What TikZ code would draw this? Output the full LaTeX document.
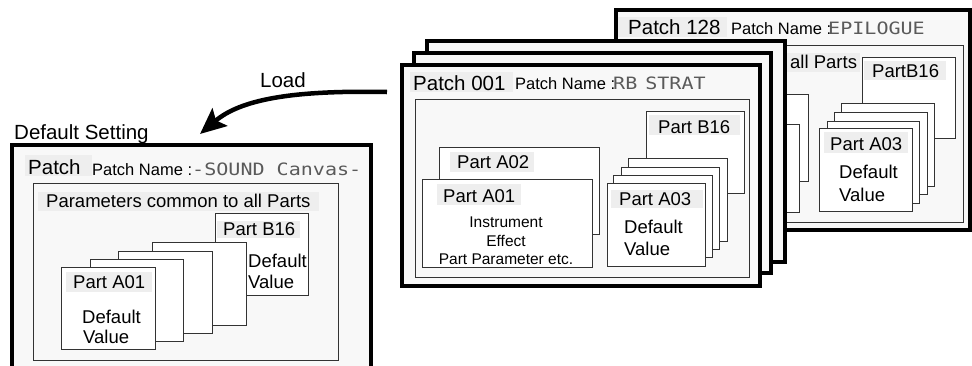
\documentclass[tikz,border=0pt]{standalone}
\usepackage{fontspec}
\setmainfont{Liberation Sans}
\newfontfamily\lcdfont[FakeStretch=1.18]{DejaVu Sans Mono}
\usetikzlibrary{arrows.meta}
\definecolor{framefill}{HTML}{F8F8F8}
\definecolor{labelfill}{HTML}{EEEEEE}
\definecolor{linegray}{HTML}{333333}
\definecolor{lcdgray}{HTML}{5A5A5A}
\newcommand\rbox[6]{\node[#6, anchor=north west, minimum width={(#4-#2)*1pt}, minimum height={(#5-#3)*1pt}] (#1) at (#2,#3) {};}
\tikzset{
  frame/.style={draw=black, line width=3.5pt, fill=framefill, inner sep=0pt, outer sep=0pt},
  leftframe/.style={frame, line width=3.2pt},
  parambox/.style={draw=linegray, line width=1pt, fill=framefill, inner sep=0pt, outer sep=0pt},
  partbox/.style={draw=linegray, line width=1pt, fill=white, inner sep=0pt, outer sep=0pt},
  labelbg/.style={fill=labelfill, inner sep=0pt, outer sep=0pt},
  txt/.style={inner sep=0pt, anchor=base west, font=\fontsize{18.5}{22}\selectfont},
  bigtxt/.style={txt, font=\fontsize{20.5}{24}\selectfont},
  pname/.style={txt, font=\fontsize{16.5}{19}\selectfont},
  lcd/.style={txt, text=lcdgray, font=\lcdfont\fontsize{17}{20}\selectfont},
  smalltxt/.style={inner sep=0pt, anchor=base, font=\fontsize{15.5}{18}\selectfont},
  loadarrow/.style={line width=4.5pt, -{Stealth[length=26pt, width=23pt, inset=5pt]}}
}
\begin{document}
\begin{tikzpicture}[x=1pt,y=-1pt]
\useasboundingbox (0,0) rectangle (972,365);
\clip (0,0) rectangle (972,365);

% ---------- Patch 128 (back) ----------
\rbox{f128}{616}{10}{970}{230}{frame}
\rbox{l128}{618}{17}{727}{37}{labelbg}
\node[bigtxt] (t128) at (628,34) {Patch 128};
\node[pname] (pn128) at (731,34) {Patch Name :};
\node[lcd] (lcd128) at (828,34) {EPILOGUE};
\rbox{pb128}{629}{45}{963}{222}{parambox}
\rbox{allbg}{785}{53}{860}{72}{labelbg}
\node[txt] (allp) at (790,68) {all Parts};
\rbox{h2}{640}{94}{808}{181}{partbox}
\rbox{h1}{630}{124}{799}{212}{partbox}
\rbox{bs128}{862}{57}{955}{138}{partbox}
\rbox{bsl128}{864}{61}{946}{80}{labelbg}
\node[txt] (bst128) at (872,77) {PartB16};
\rbox{s3r}{841}{103}{934}{186}{partbox}
\rbox{s2r}{834}{112}{927}{194}{partbox}
\rbox{s1r}{827}{121}{919}{203}{partbox}
\rbox{a3r}{819}{128}{912}{211}{partbox}
\rbox{a3lr}{824}{132}{908}{153}{labelbg}
\node[txt] (a3tr) at (830,150) {Part A03};
\node[txt] (a3dr) at (839,178) {Default};
\node[txt] (a3vr) at (839,201) {Value};

% ---------- stacked frames ----------
\rbox{fC}{427}{41}{785}{262}{frame}
\rbox{fB}{414}{53}{771}{273}{frame}
\rbox{fA}{402}{65}{760}{286}{frame}

% ---------- Patch 001 ----------
\rbox{l001}{410}{72}{513}{92}{labelbg}
\node[bigtxt] (t001) at (413,90) {Patch 001};
\node[pname] (pn001) at (515,89) {Patch Name :};
\node[lcd] (lcd001) at (613,89) {RB\hspace{8pt}STRAT};
\rbox{pb001}{415}{99}{749}{277}{parambox}
\rbox{b16}{646}{111}{744}{193}{partbox}
\rbox{b16l}{649}{115}{740}{135}{labelbg}
\node[txt] (b16t) at (658,133) {Part B16};
\rbox{s3}{628}{158}{727}{241}{partbox}
\rbox{s2}{621}{167}{719}{249}{partbox}
\rbox{s1}{613}{175}{712}{257}{partbox}
\rbox{a3}{607}{183}{705}{266}{partbox}
\rbox{a3l}{611}{190}{703}{208}{labelbg}
\node[txt] (a3t) at (619,205) {Part A03};
\node[txt] (a3d) at (624,233) {Default};
\node[txt] (a3v) at (624,255) {Value};
\rbox{a2}{439}{147}{599}{234}{partbox}
\rbox{a2l}{450}{152}{534}{172}{labelbg}
\node[txt] (a2t) at (457,168) {Part A02};
\rbox{a1}{422}{179}{592}{267}{partbox}
\rbox{a1l}{437}{184}{521}{205}{labelbg}
\node[txt] (a1t) at (443,202) {Part A01};
\node[smalltxt] (a1i) at (506,227) {Instrument};
\node[smalltxt] (a1e) at (506,246) {Effect};
\node[smalltxt] (a1p) at (506,264) {Part Parameter etc.};

% ---------- Default setting patch ----------
\node[bigtxt] (dset) at (14,139) {Default Setting};
\rbox{fL}{12}{145}{371}{385}{leftframe}
\rbox{lL}{25}{155}{92}{176}{labelbg}
\node[bigtxt] (tL) at (28,174) {Patch};
\node[pname] (pnL) at (92,175) {Patch Name :};
\node[lcd] (lcdL) at (192,175) {-SOUND Canvas-};
\rbox{pbL}{33}{183}{338}{360}{parambox}
\rbox{pblL}{38}{192}{319}{211}{labelbg}
\node[txt, font=\fontsize{18.5}{22}\selectfont] (pctL) at (46,207) {Parameters common to all Parts};
\rbox{b16L}{215}{213}{308}{295}{partbox}
\rbox{b16lL}{217}{221}{300}{238}{labelbg}
\node[txt] (b16tL) at (223,235) {Part B16};
\node[txt] (b16dL) at (248,267) {Default};
\node[txt] (b16vL) at (248,288) {Value};
\rbox{s3L}{152}{242}{246}{325}{partbox}
\rbox{s2L}{118}{251}{212}{333}{partbox}
\rbox{s1L}{90}{259}{183}{341}{partbox}
\rbox{a1L}{61}{267}{155}{349}{partbox}
\rbox{a1lL}{66}{272}{152}{292}{labelbg}
\node[txt] (a1tL) at (73,288) {Part A01};
\node[txt] (a1dL) at (82,323) {Default};
\node[txt] (a1vL) at (83,343) {Value};

% ---------- Load arrow ----------
\node[bigtxt] (load) at (260,87) {Load};
\coordinate (ls) at (387,92);
\coordinate (le) at (200,134);
\draw[loadarrow] (ls) .. controls (290,90) and (240,100) .. (le);
\end{tikzpicture}
\end{document}
